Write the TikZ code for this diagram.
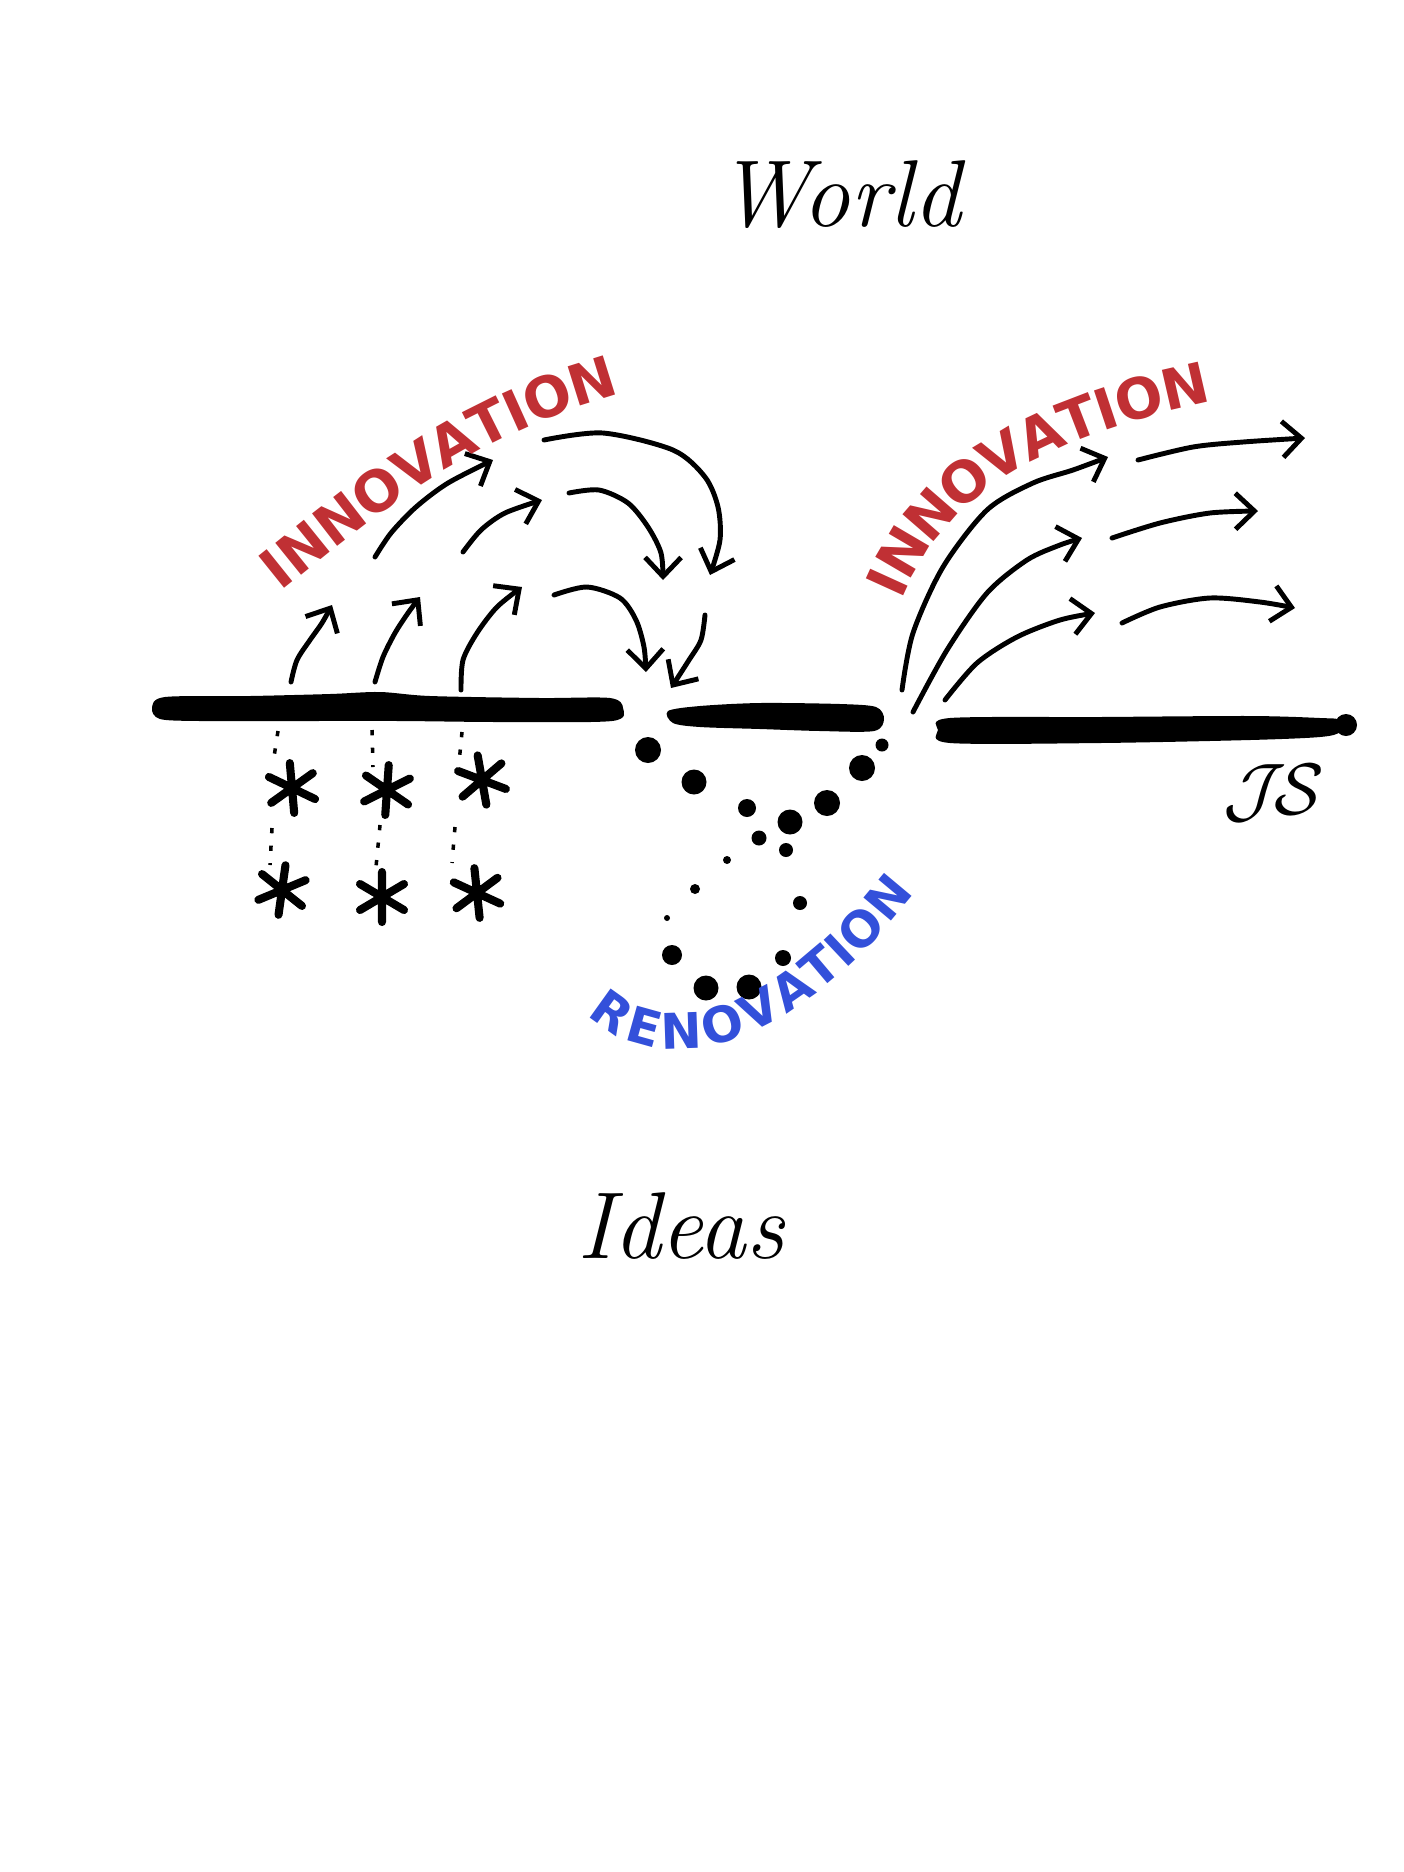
\documentclass[tikz,border=0pt]{standalone}
\usepackage{fontspec}
\newfontfamily\markerfont{DejaVu Sans}
\usepackage{tikz}
\usetikzlibrary{arrows.meta,decorations.text}
\definecolor{innored}{HTML}{C03034}
\definecolor{renoblue}{HTML}{3350DA}

\begin{document}
\begin{tikzpicture}[
  x=0.01cm, y=-0.01cm,
  hand/.style={font=\itshape\fontsize{27}{30}\selectfont, inner sep=0pt},
  bar/.style={fill=black},
  fl/.style={-{Straight Barb[length=1.9mm,width=3.6mm]}, line width=1.4pt, line cap=round, line join=round},
  trail/.style={line width=1pt, dash pattern=on 1.5pt off 3.5pt},
  spark/.pic={\draw[line width=2.3pt, line cap=round] (0,-25)--(0,25) (-22,-13)--(22,13) (-22,13)--(22,-13);}
]
\useasboundingbox (0,0) rectangle (1404,1872);
\node[hand] (world) at (839,195) {World};
\node[hand] (ideas) at (681,1226) {Ideas};
\node[font=\fontsize{22}{24}\selectfont, inner sep=0pt] (sig) at (1274,793) {$\mathcal{J\!S}$};
\fill[bar] plot[smooth cycle] coordinates {(152,708) (165,697) (250,696) (330,694) (380,692) (430,696) (540,698) (610,698) (623,708) (612,721) (500,722) (400,721) (300,721) (200,721) (160,719)};
\fill[bar] plot[smooth cycle] coordinates {(668,711) (700,706) (760,703) (840,704) (876,707) (884,719) (874,731) (820,731) (760,729) (700,727) (673,723)};
\fill[bar] plot[smooth cycle] coordinates {(938,730) (950,718) (1100,717) (1250,716) (1320,718) (1340,720) (1340,732) (1320,737) (1250,740) (1100,743) (950,743)};
\fill[bar] (1346,725) circle (11);
\foreach \px/\py/\r in {648/750/13, 694/782/12.5, 747/808/9, 790/822/12.5, 827/803/13, 862/768/13, 882/745/6.5, 759/838/7.5, 786/850/7, 727/860/4, 695/889/5, 667/918/3, 800/903/7, 672/955/10, 706/988/12.5, 749/987/12.5, 783/958/8}
  \fill (\px,\py) circle (\r);
\foreach \px/\py/\a in {292/788/5, 387/790/-4, 482/780/10, 282/890/-8, 382/897/0, 477/893/6}
  \pic[rotate=\a] at (\px,\py) {spark};
\foreach \ax/\ay/\bx/\by in {278/731/274/757, 372/730/373/767, 462/732/459/763, 272/828/270/865, 380/825/376/867, 455/827/452/863}
  \draw[trail] (\ax,\ay) -- (\bx,\by);
\draw[fl] plot[smooth] coordinates {(291,682) (297,660) (310,640) (322,623) (332,605)};
\draw[fl] plot[smooth] coordinates {(375,682) (383,657) (395,633) (408,613) (420,597)};
\draw[fl] plot[smooth] coordinates {(461,690) (463,660) (477,633) (497,607) (522,587)};
\draw[fl] plot[smooth] coordinates {(554,595) (587,587) (620,598) (636,620) (644,647) (646,672)};
\draw[fl] plot[smooth] coordinates {(705,615) (701,640) (689,660) (671,688)};
\draw[fl] plot[smooth] coordinates {(375,557) (391,533) (416,507) (448,483) (493,460)};
\draw[fl] plot[smooth] coordinates {(463,552) (481,530) (505,513) (542,500)};
\draw[fl] plot[smooth] coordinates {(569,493) (599,490) (628,503) (648,527) (661,553) (663,580)};
\draw[fl] plot[smooth] coordinates {(544,440) (603,433) (673,450) (705,477) (718,507) (720,540) (710,575)};
\draw[fl] plot[smooth] coordinates {(902,690) (913,633) (943,567) (987,510) (1033,483) (1073,470) (1108,457)};
\draw[fl] plot[smooth] coordinates {(913,712) (947,650) (987,593) (1027,560) (1060,545) (1082,538)};
\draw[fl] plot[smooth] coordinates {(945,700) (977,663) (1017,637) (1060,620) (1095,613)};
\draw[fl] plot[smooth] coordinates {(1138,460) (1193,447) (1243,442) (1305,438)};
\draw[fl] plot[smooth] coordinates {(1112,538) (1160,523) (1210,513) (1258,511)};
\draw[fl] plot[smooth] coordinates {(1122,623) (1160,607) (1210,598) (1260,602) (1295,608)};
\path[decorate, decoration={text along path, text color=innored, raise=-5.8pt,
  text={|\markerfont\bfseries\fontsize{16}{16}\selectfont|INNOVATION}}]
  (268,576) .. controls (345,515) and (460,410) .. (640,368);
\path[decorate, decoration={text along path, text color=innored, raise=-5.8pt,
  text={|\markerfont\bfseries\fontsize{16}{16}\selectfont|INNOVATION}}]
  (883,592) .. controls (912,525) and (965,430) .. (1215,380);
\path[decorate, decoration={text along path, text color=renoblue, raise=-5.1pt,
  text={|\markerfont\bfseries\fontsize{14}{14}\selectfont|RENOVATION}}]
  (598,999) .. controls (645,1050) and (770,1065) .. (925,850);
\end{tikzpicture}
\end{document}
